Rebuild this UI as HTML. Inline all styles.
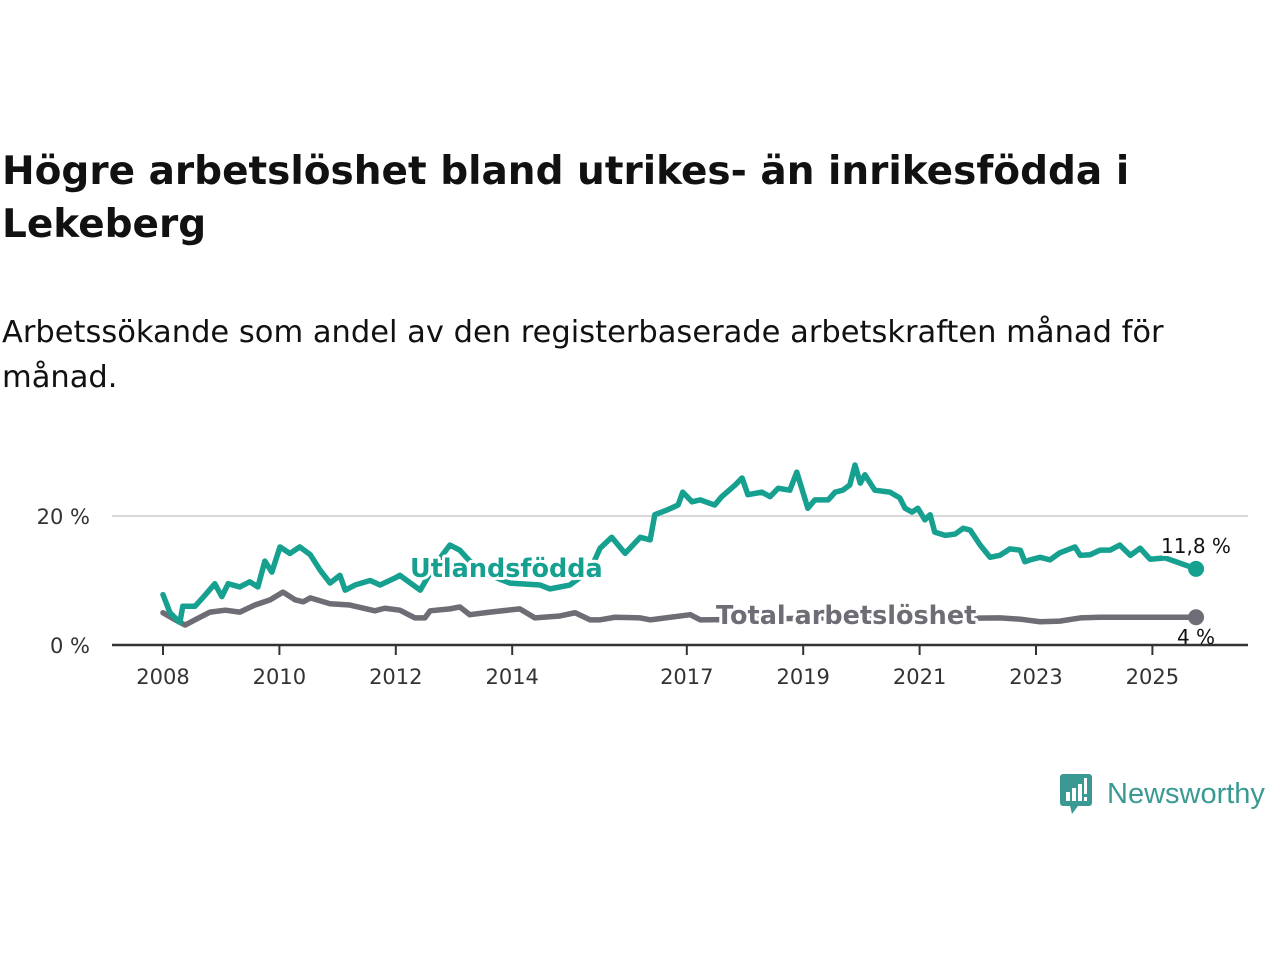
<!DOCTYPE html>
<html><head><meta charset="utf-8">
<style>
body{margin:0;width:1280px;height:960px;background:#fff;overflow:hidden;font-family:"DejaVu Sans","Liberation Sans",sans-serif;color:#111;}
h1{position:absolute;left:2px;top:145px;margin:0;font-size:39px;line-height:53px;font-weight:bold;width:1180px;color:#111;}
p.sub{position:absolute;left:2px;top:310px;margin:0;font-size:30.5px;line-height:45px;width:1200px;color:#111;}
svg{position:absolute;left:0;top:0;}
</style></head><body>
<h1>Högre arbetslöshet bland utrikes- än inrikesfödda i Lekeberg</h1>
<p class="sub">Arbetssökande som andel av den registerbaserade arbetskraften månad för månad.</p>
<svg id="chart" width="1280" height="960"></svg>
<div style="position:absolute;left:1060px;top:772px;height:44px;display:flex;align-items:center;">
<svg width="34" height="44" style="position:relative"><rect x="0" y="2" width="32" height="32" rx="3" fill="#3a9a93"/><polygon points="10,34 18,34 12,42" fill="#3a9a93"/><rect x="6" y="20" width="4" height="9" fill="#fff"/><rect x="12" y="16" width="4" height="13" fill="#fff"/><rect x="18" y="12" width="4" height="17" fill="#fff"/><rect x="24" y="6" width="3" height="16" fill="#fff"/><rect x="24" y="25" width="3" height="4" fill="#fff"/></svg>
<span style="margin-left:13px;font-size:29px;color:#3a9a93;font-family:'Liberation Sans',sans-serif;">Newsworthy</span></div>
<script>
const yTicks=[0,20];
const yTickLabels=["0 %","20 %"];
const xTicks=[2008,2010,2012,2014,2017,2019,2021,2023,2025];
const foreignDates=[2008.00,2008.12,2008.29,2008.34,2008.55,2008.72,2008.89,2009.01,2009.12,2009.32,2009.49,2009.63,2009.75,2009.87,2010.01,2010.18,2010.35,2010.53,2010.70,2010.87,2011.04,2011.13,2011.30,2011.56,2011.73,2011.99,2012.07,2012.42,2012.67,2012.93,2013.10,2013.27,2013.62,2013.96,2014.48,2014.65,2014.99,2015.34,2015.51,2015.71,2015.94,2016.20,2016.37,2016.45,2016.68,2016.85,2016.93,2017.09,2017.23,2017.48,2017.60,2017.83,2017.95,2018.05,2018.29,2018.43,2018.57,2018.77,2018.89,2019.08,2019.20,2019.43,2019.55,2019.68,2019.80,2019.89,2019.98,2020.06,2020.23,2020.49,2020.66,2020.75,2020.87,2020.97,2021.09,2021.18,2021.26,2021.44,2021.61,2021.75,2021.87,2022.04,2022.21,2022.38,2022.55,2022.73,2022.81,2022.90,2023.07,2023.24,2023.41,2023.67,2023.76,2023.93,2024.10,2024.27,2024.44,2024.62,2024.79,2024.96,2025.22,2025.75];
const foreignValues=[7.8,5,3.5,6,6,7.7,9.5,7.5,9.5,9,9.8,9,13,11.3,15.2,14.2,15.2,14,11.6,9.6,10.8,8.5,9.3,10,9.3,10.4,10.8,8.5,12.4,15.5,14.7,13,10.8,9.6,9.3,8.7,9.3,11.6,15,16.7,14.2,16.7,16.3,20.2,21,21.7,23.7,22.2,22.5,21.7,23,24.8,25.9,23.3,23.7,23,24.3,24,26.8,21.2,22.5,22.5,23.7,24,24.8,27.9,25.1,26.4,24,23.7,22.8,21.2,20.6,21.2,19.4,20.2,17.5,17,17.2,18.1,17.8,15.5,13.6,13.9,14.9,14.7,12.9,13.2,13.6,13.2,14.3,15.2,13.9,14,14.7,14.7,15.5,13.9,15,13.3,13.5,11.8];
const totalDates=[2008.00,2008.21,2008.38,2008.55,2008.81,2009.07,2009.32,2009.58,2009.84,2010.06,2010.27,2010.41,2010.53,2010.87,2011.21,2011.64,2011.81,2012.07,2012.33,2012.50,2012.59,2012.93,2013.10,2013.27,2013.62,2014.13,2014.39,2014.82,2015.08,2015.34,2015.51,2015.77,2016.20,2016.37,2017.06,2017.23,2018.26,2019.80,2021.35,2022.38,2022.73,2023.07,2023.41,2023.76,2024.10,2024.96,2025.75];
const totalValues=[5,3.9,3.1,3.9,5.1,5.4,5.1,6.2,7,8.2,7,6.7,7.3,6.4,6.2,5.3,5.7,5.4,4.2,4.2,5.3,5.6,5.9,4.7,5.1,5.6,4.2,4.5,5,3.9,3.9,4.3,4.2,3.9,4.7,3.9,4.0,4.3,4.1,4.2,4.0,3.6,3.7,4.2,4.3,4.3,4.3];
const endLabels=["11,8 %","4 %"];
const seriesNames=["Utlandsfödda","Total arbetslöshet"];

const NS="http://www.w3.org/2000/svg";
const svg=document.getElementById('chart');
const FF='DejaVu Sans, Liberation Sans, sans-serif';
const xS=t=>163+(t-2008)*58.2;
const yS=v=>645-v*6.45;
function mk(tag,attrs){const e=document.createElementNS(NS,tag);for(const k in attrs)e.setAttribute(k,attrs[k]);svg.appendChild(e);return e;}
yTicks.forEach((v,i)=>{
  if(v>0){const g=mk('line',{x1:112,x2:1248,y1:yS(v),y2:yS(v),stroke:'#d8d8d8','stroke-width':2});
  
  }
  const t=mk('text',{x:90,y:yS(v)+8,'text-anchor':'end','font-size':21,fill:'#333','font-family':FF});
  t.textContent=yTickLabels[i];
  
  
});
function line(d,v,color,name){
  const p=mk('polyline',{points:d.map((t,i)=>xS(t)+','+yS(v[i])).join(' '),fill:'none',stroke:color,'stroke-width':5.5,'stroke-linejoin':'round','stroke-linecap':'round'});
  
  
  const c=mk('circle',{cx:xS(d[d.length-1]),cy:yS(v[v.length-1]),r:8,fill:color});
  
  
}
line(totalDates,totalValues,'#6e6c74','total-line');
line(foreignDates,foreignValues,'#16a090','foreign-born-line');
function label(x,y,txt,color,size,bold,name,anchor){
  const t=mk('text',{x:x,y:y,fill:color,'font-size':size,'font-weight':bold?'bold':'normal',stroke:'#fff','stroke-width':6,'paint-order':'stroke','stroke-linejoin':'round','text-anchor':anchor||'start','font-family':FF});
  t.textContent=txt;
  
  
}
label(410,577,seriesNames[0],'#16a090',25.5,true,'foreign-born-label');
label(716,624,seriesNames[1],'#6e6c74',25.5,true,'total-label');
label(1196,553,endLabels[0],'#111',20,false,'foreign-end-value','middle');
label(1196,644,endLabels[1],'#111',20,false,'total-end-value','middle');
const ax=mk('line',{x1:112,x2:1248,y1:645,y2:645,stroke:'#333','stroke-width':2.5});


xTicks.forEach(yr=>{
  const tk=mk('line',{x1:xS(yr),x2:xS(yr),y1:645,y2:655,stroke:'#333','stroke-width':2});
  
  
  const t=mk('text',{x:xS(yr),y:684,'text-anchor':'middle','font-size':21,fill:'#333','font-family':FF});
  t.textContent=String(yr);
  
  
});
</script>
</body></html>
